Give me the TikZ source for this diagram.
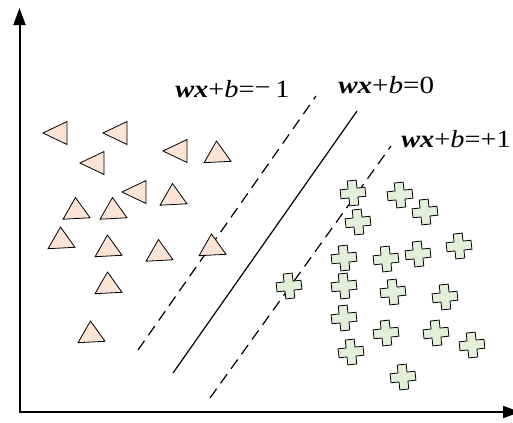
\documentclass[tikz,border=0pt]{standalone}
\usepackage{fontspec}
\usepackage{graphicx}
\setmainfont{Liberation Serif}
\newfontfamily\lblfont{Liberation Serif}
\usetikzlibrary{arrows.meta}
\definecolor{peach}{RGB}{251,228,213}
\definecolor{mint}{RGB}{226,239,217}
\tikzset{
  axis/.style={line width=1.5pt,-{Triangle[length=12.75pt,width=9pt]}},
  sep/.style={line width=0.9pt},
  margin/.style={line width=0.9pt,dash pattern=on 8.5pt off 5pt},
  shp/.style={line width=0.6pt,line join=miter},
  lbl/.style={inner sep=0pt,font=\lblfont\fontsize{18.5}{20}\selectfont},
  uptri/.pic={\draw[shp,fill=peach] (0,-10.5) -- (13.5,10.5) -- (-13.5,10.5) -- cycle;},
  lefttri/.pic={\draw[shp,fill=peach] (0,0) -- (24,-11.5) -- (24,11.5) -- cycle;},
  plus/.pic={\draw[shp,fill=mint] (-4.5,-12.5) -- (4.5,-12.5) -- (4.5,-4.5) -- (12.5,-4.5) -- (12.5,4.5) -- (4.5,4.5) -- (4.5,12.5) -- (-4.5,12.5) -- (-4.5,4.5) -- (-12.5,4.5) -- (-12.5,-4.5) -- (-4.5,-4.5) -- cycle;}
}
\begin{document}
\begin{tikzpicture}[x=0.75pt,y=-0.75pt]
\useasboundingbox (0,0) rectangle (513,422);
% axes
\coordinate (O) at (19.5,412);
\coordinate (Ytip) at (19.5,8);
\coordinate (Xtip) at (520,412);
\draw[axis] ([yshift=-0.75pt]O) -- (Ytip);
\draw[axis] ([xshift=-0.75pt]O) -- (Xtip);
% separating lines
\coordinate (m1a) at (138,350); \coordinate (m1b) at (316,96);
\coordinate (s0a) at (173,373); \coordinate (s0b) at (357,111);
\coordinate (p1a) at (210,398); \coordinate (p1b) at (391,146);
\draw[margin] (m1a) -- (m1b);
\draw[sep] (s0a) -- (s0b);
\draw[margin] (p1a) -- (p1b);
% labels
\node[lbl,anchor=base west] (lm) at (175,97) {\scalebox{1.15}[1]{\textbf{\textit{wx}}+\textit{b}=\raisebox{1.5pt}{−}\,1}};
\node[lbl,anchor=base west] (l0) at (338,93) {\scalebox{1.18}[1]{\textbf{\textit{wx}}+\textit{b}=0}};
\node[lbl,anchor=base west] (lp) at (401,147) {\scalebox{1.15}[1]{\textbf{\textit{wx}}+\textit{b}=+1}};
% up triangles
\foreach \x/\y in {217/151.5,173/194,76/208,113/208,61/237.5,108/245.5,159/250,212/244.5,108/282.5,91/331.5}
  \pic[rotate=3] at (\x,\y) {uptri};
% left triangles
\foreach \x/\y in {43/133,103/133,80/163,163/151,122/192}
  \pic at (\x,\y) {lefttri};
% crosses
\foreach \x/\y in {353/193,400/195,425/212,358/222,344/258,386/259,418/254,459/246,289/286,344/286,393/292,445/297,344/318,386/333,436/333,351/352,472/345,403/377}
  \pic[rotate=6] at (\x,\y) {plus};
\end{tikzpicture}
\end{document}
